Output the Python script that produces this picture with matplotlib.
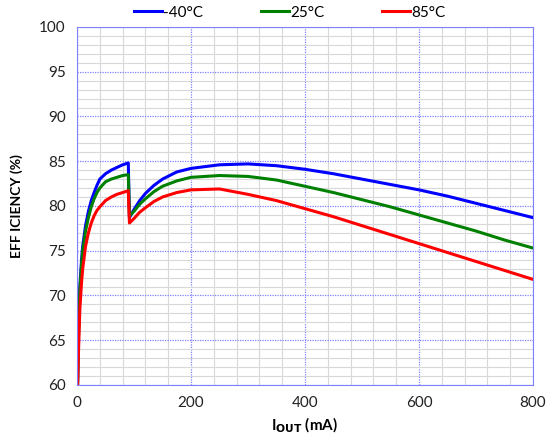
import matplotlib.pyplot as plt
from matplotlib.ticker import MultipleLocator

plt.rcParams['font.family'] = ['Lato', 'DejaVu Sans']

# 측정 데이터 (I_OUT mA, 효율 %)
x_m40 = [1, 3, 5, 8, 10, 15, 20, 25, 30, 35, 40, 50, 60, 70, 80, 90, 92,
         100, 110, 120, 135, 150, 175, 200, 250, 300, 350, 400, 450, 500, 550, 600, 650, 700, 750, 800]
eff_m40 = [60.0, 67.0, 71.0, 74.0, 75.5, 77.8, 79.4, 80.6, 81.5, 82.3, 83.0, 83.6, 84.0, 84.3, 84.6, 84.8, 78.7,
           79.6, 80.6, 81.4, 82.3, 83.0, 83.8, 84.2, 84.6, 84.7, 84.5, 84.1, 83.6, 83.0, 82.4, 81.8, 81.1, 80.3, 79.5, 78.7]

x_25 = [1, 3, 5, 8, 10, 15, 20, 25, 30, 35, 40, 50, 60, 70, 80, 90, 92,
        100, 110, 120, 135, 150, 175, 200, 250, 300, 350, 400, 450, 500, 550, 600, 650, 700, 750, 800]
eff_25 = [60.0, 66.5, 70.5, 73.5, 75.0, 77.2, 78.7, 79.9, 80.8, 81.5, 82.0, 82.7, 83.0, 83.2, 83.4, 83.5, 78.9,
          79.4, 80.2, 80.8, 81.6, 82.2, 82.8, 83.2, 83.4, 83.3, 82.9, 82.2, 81.5, 80.7, 79.9, 79.0, 78.1, 77.2, 76.2, 75.3]

x_85 = [1, 3, 5, 8, 10, 15, 20, 25, 30, 35, 40, 50, 60, 70, 80, 90, 92,
        100, 110, 120, 135, 150, 175, 200, 250, 300, 350, 400, 450, 500, 550, 600, 650, 700, 750, 800]
eff_85 = [60.0, 64.5, 68.5, 71.5, 73.0, 75.5, 77.0, 78.1, 78.9, 79.5, 79.9, 80.6, 81.0, 81.3, 81.5, 81.7, 78.1,
          78.6, 79.3, 79.8, 80.5, 81.0, 81.5, 81.8, 81.9, 81.3, 80.6, 79.7, 78.8, 77.8, 76.8, 75.8, 74.8, 73.8, 72.8, 71.8]

fig = plt.figure(figsize=(5.56, 4.42), dpi=100)
ax = fig.add_axes([0.1385, 0.129, 0.82, 0.81])

ax.plot(x_m40, eff_m40, color='#0000ff', lw=2.2, label='-40°C')
ax.plot(x_25, eff_25, color='#008000', lw=2.2, label='25°C')
ax.plot(x_85, eff_85, color='#ff0000', lw=2.2, label='85°C')

ax.set_xlim(0, 800)
ax.set_ylim(60, 100)
ax.xaxis.set_major_locator(MultipleLocator(200))
ax.xaxis.set_minor_locator(MultipleLocator(40))
ax.yaxis.set_major_locator(MultipleLocator(5))
ax.yaxis.set_minor_locator(MultipleLocator(1))
ax.grid(which='minor', color='#d8d8d8', lw=0.8, ls='-')
ax.grid(which='major', color='#8080ff', lw=0.9, ls=(0, (1, 1)))
ax.set_axisbelow(True)
ax.tick_params(which='both', length=0, labelsize=11, pad=8, colors='#222222')
for s in ax.spines.values():
    s.set_color('#8080ff')
    s.set_linestyle((0, (1, 1)))

ax.set_xlabel(r'I$_{\mathbf{OUT}}$ (mA)', fontsize=11, fontweight='bold', labelpad=4)
ax.set_ylabel('EFF ICIENCY (%)', fontsize=10, fontweight='bold', labelpad=12)

ax.legend(loc='lower center', bbox_to_anchor=(0.467, 0.995), ncol=3, frameon=False,
          fontsize=11, handlelength=1.8, handletextpad=0.1, columnspacing=3.8,
          borderaxespad=0.2)

plt.savefig('out.png', dpi=100)
